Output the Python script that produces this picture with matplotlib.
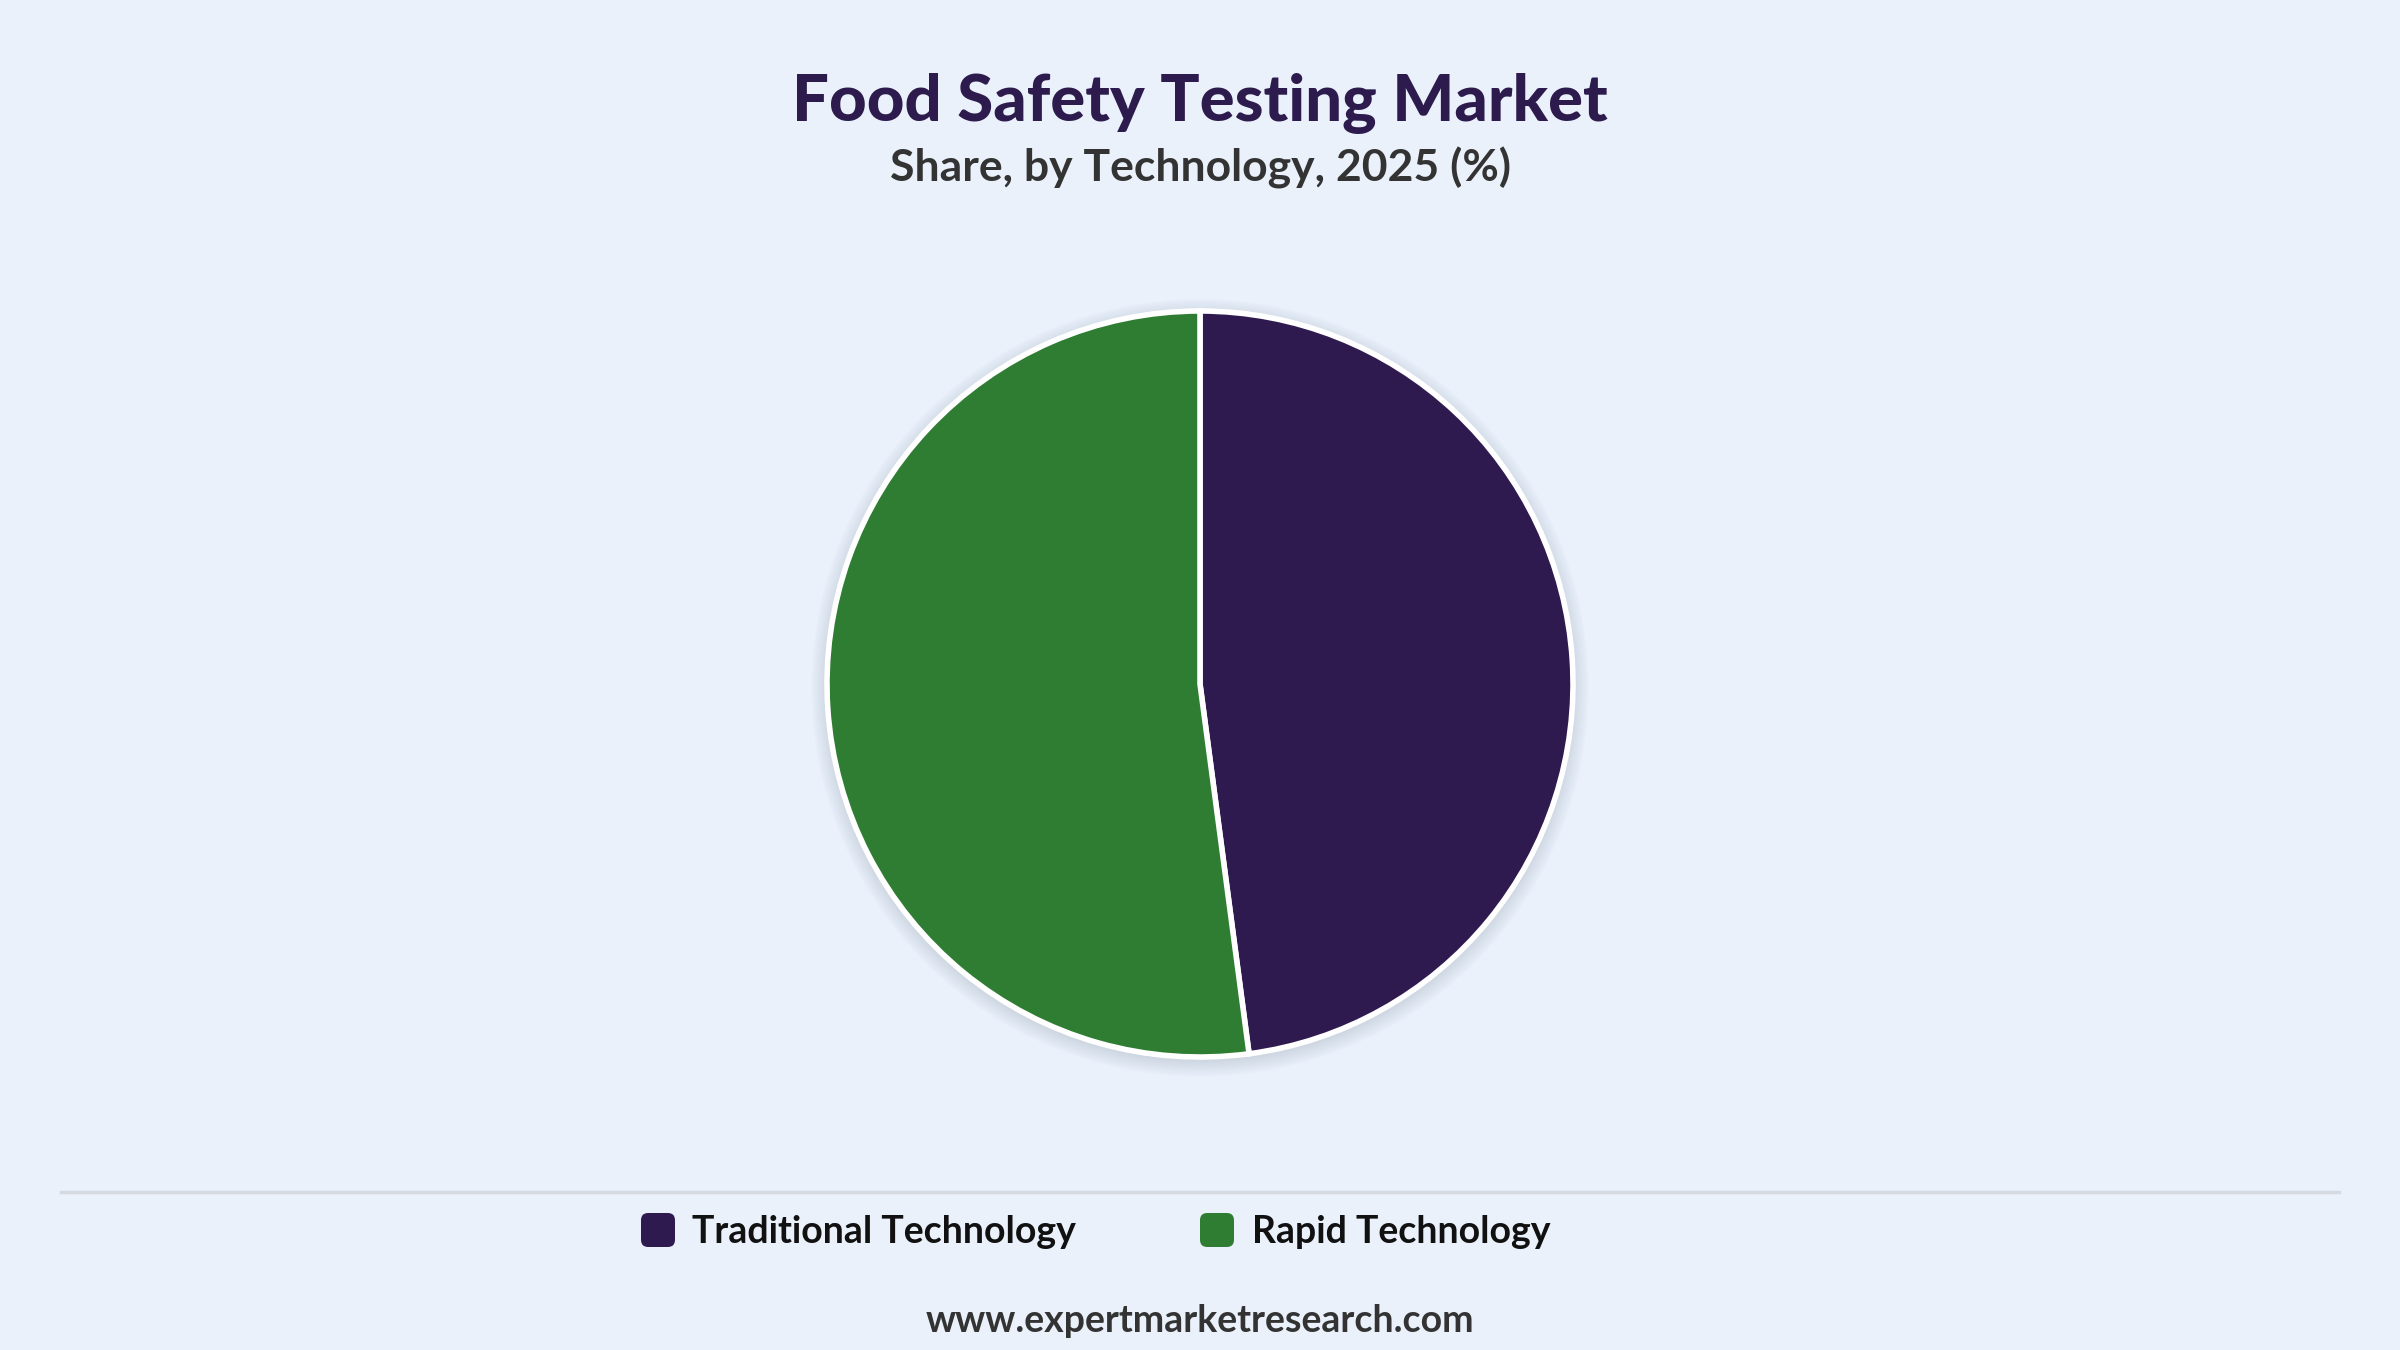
import matplotlib
matplotlib.use("Agg")
import matplotlib.pyplot as plt
from matplotlib.patches import Circle, FancyBboxPatch
from matplotlib.lines import Line2D

categories = ["Traditional Technology", "Rapid Technology"]
shares = [47.9, 52.1]
colors = ["#2E1A4F", "#2E7D32"]

title = "Food Safety Testing Market"
subtitle = "Share, by Technology, 2025 (%)"
source = "www.expertmarketresearch.com"

BG = "#EAF1FB"
W, H = 2400, 1350
fig = plt.figure(figsize=(24, 13.5), dpi=100, facecolor=BG)

plt.rcParams['font.family'] = ['Lato', 'DejaVu Sans']

# Titles
fig.text(0.5, 1 - 104 / H, title, ha="center", va="center", fontsize=47,
         fontweight="black", color="#2D1B4E")
fig.text(0.5, 1 - 168 / H, subtitle, ha="center", va="center", fontsize=32,
         fontweight="bold", color="#333333")

# Pie axes
cx, cy, r = 1200, 684, 373
ax = fig.add_axes([(cx - r) / W, (H - cy - r) / H, 2 * r / W, 2 * r / H])
ax.set_facecolor("none")
ax.axis("off")

# soft shadow
for i in range(12):
    ax.add_patch(Circle((0.0, -0.01), 1.0 + 0.0035 * (i + 1), color="#9aa5b5",
                        alpha=0.028, lw=0, zorder=0, clip_on=False))

ax.pie(shares, colors=colors, startangle=90, counterclock=False, radius=1.0,
       wedgeprops=dict(edgecolor="white", linewidth=4, joinstyle="miter"))
ax.set_xlim(-1, 1)
ax.set_ylim(-1, 1)
ax.set_aspect("equal")

# separator line
fig.add_artist(Line2D([61 / W, 2339 / W], [1 - 1192 / H, 1 - 1192 / H],
                      color="#D6DAE0", lw=2.5))

# legend
leg_y = 1230
items = [(641, 692), (1200, 1252)]
for (sx, tx), cat, col in zip(items, categories, colors):
    sq = FancyBboxPatch((sx / W, 1 - (leg_y + 17) / H), 34 / W, 34 / H,
                        boxstyle="round,pad=0,rounding_size=0.003",
                        transform=fig.transFigure, facecolor=col, edgecolor="none",
                        mutation_aspect=W / H)
    fig.add_artist(sq)
    fig.text(tx / W, 1 - (leg_y + 2) / H, cat, ha="left", va="center", fontsize=27,
             fontweight="bold", color="#111111")

fig.text(0.5, 1 - 1321 / H, source, ha="center", va="center", fontsize=27,
         fontweight="bold", color="#333333")

fig.savefig("out.png", dpi=100, facecolor=BG)
